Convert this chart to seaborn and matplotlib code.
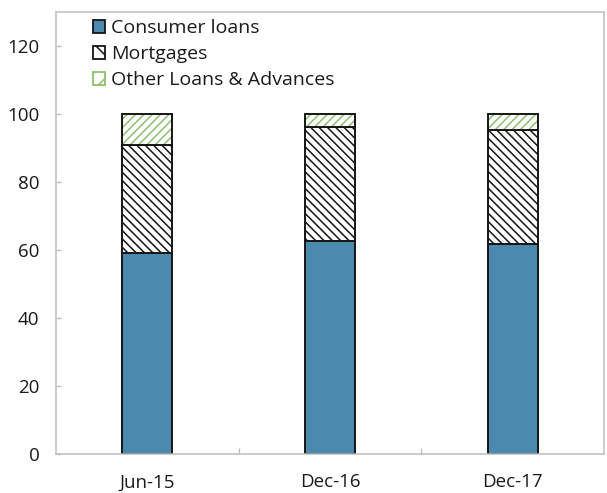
import matplotlib
matplotlib.use("Agg")
import matplotlib.pyplot as plt
from matplotlib.patches import Patch
import numpy as np
import seaborn as sns

# Loan composition by period (per cent of total loans)
periods = ["Jun-15", "Dec-16", "Dec-17"]
consumer_loans = [59.2, 62.5, 61.9]
mortgages = [31.8, 33.6, 33.4]
other_loans = [9.0, 3.9, 4.7]
series_names = ["Consumer loans", "Mortgages", "Other Loans & Advances"]
y_ticks = [0, 20, 40, 60, 80, 100, 120]

sns.set_theme(style="white")
plt.rcParams["font.family"] = ["Open Sans", "DejaVu Sans"]
plt.rcParams["hatch.linewidth"] = 1.1

blue = "#4b89ae"
green = "#8fc06d"
outline = "#151515"
spine_grey = "#bfbfbf"
text_col = "#1a1a1a"
bar_w = 0.275

fig = plt.figure(figsize=(6.07, 4.93), dpi=100)
ax = fig.add_axes([56 / 607, 1 - 454 / 493, 548 / 607, 442 / 493])

consumer = np.array(consumer_loans)
mort = np.array(mortgages)
other = np.array(other_loans)

# bottom segment: consumer loans
sns.barplot(x=periods, y=consumer, color=blue, saturation=1, width=bar_w,
            edgecolor=outline, linewidth=1.4, ax=ax)

# middle segment: mortgages, dense black hatch on white
sns.barplot(x=periods, y=mort, bottom=consumer, color="white", saturation=1,
            width=bar_w, edgecolor=outline, linewidth=1.4,
            hatch="\\\\\\\\", ax=ax)

# top segment: other loans, green hatch with a dark outline drawn separately
sns.barplot(x=periods, y=other, bottom=consumer + mort, color="white",
            saturation=1, width=bar_w, edgecolor=green, linewidth=0,
            hatch="////", ax=ax)
sns.barplot(x=periods, y=other, bottom=consumer + mort, color="white",
            saturation=1, width=bar_w, edgecolor=outline, linewidth=1.4, ax=ax)
for bar in ax.containers[-1]:
    bar.set_facecolor("none")

ax.set_ylim(0, 130)
ax.set_xlim(-0.5, 2.5)
ax.set_yticks(y_ticks)
ax.set_xlabel("")
ax.set_ylabel("")

for side in ["left", "right", "top", "bottom"]:
    ax.spines[side].set_visible(True)
    ax.spines[side].set_color(spine_grey)
    ax.spines[side].set_linewidth(1.1)

ax.tick_params(axis="y", direction="in", length=3.5, width=1, color=spine_grey,
               left=True, pad=12, labelsize=13.5, labelcolor=text_col)
ax.tick_params(axis="x", which="major", length=0, pad=14, labelsize=13.5,
               labelcolor=text_col)
ax.set_xticks([0.5, 1.5], minor=True)
ax.tick_params(axis="x", which="minor", direction="in", length=4.5, width=1,
               color=spine_grey, bottom=True)

handles = [
    Patch(facecolor=blue, edgecolor=outline, linewidth=1.3),
    Patch(facecolor="white", edgecolor=outline, linewidth=1.3, hatch="\\\\"),
    Patch(facecolor="white", edgecolor=green, linewidth=1.3, hatch="//"),
]
leg = ax.legend(handles, series_names, loc="upper left",
                bbox_to_anchor=(0.06, 0.992), frameon=False, fontsize=14,
                handlelength=0.65, handleheight=0.65, handletextpad=0.3,
                labelspacing=0.4, borderaxespad=0, borderpad=0.2)
for t in leg.get_texts():
    t.set_color(text_col)

fig.savefig("out.png", dpi=100)
